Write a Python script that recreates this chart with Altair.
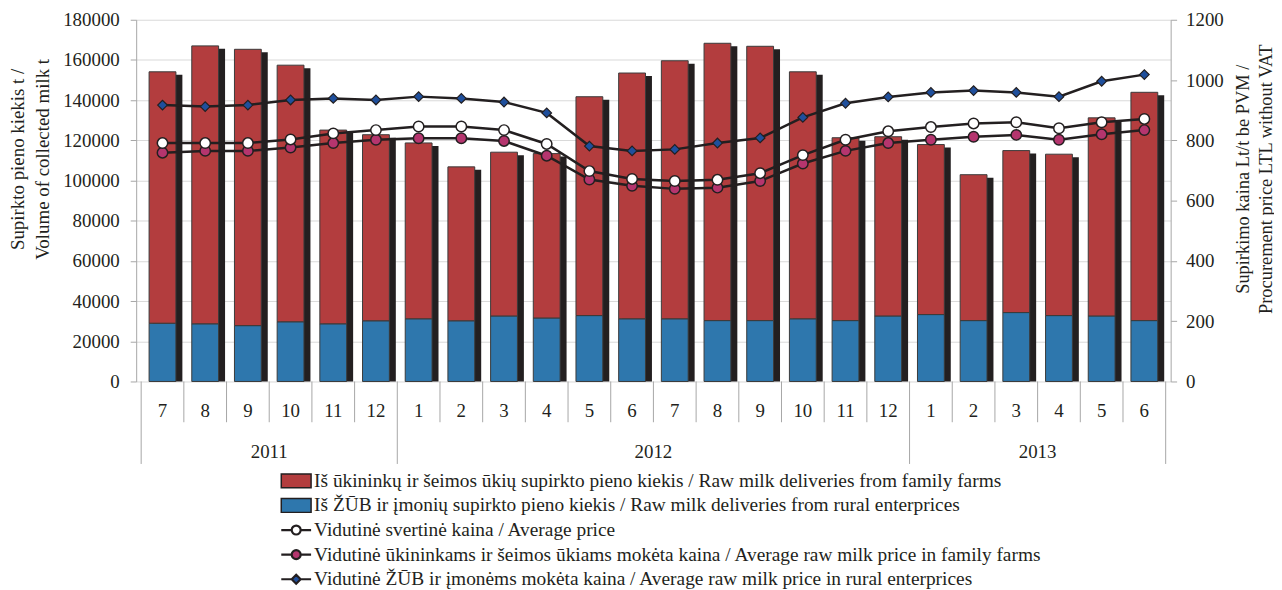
import altair as alt
import pandas as pd

# ---------------- data ----------------
months = [7, 8, 9, 10, 11, 12, 1, 2, 3, 4, 5, 6, 7, 8, 9, 10, 11, 12, 1, 2, 3, 4, 5, 6]
years = ["2011", "2012", "2013"]
year_start = [0, 6, 18]
year_end = [6, 18, 24]

# raw milk deliveries, t
family_farms = [125100, 138300, 137500, 127700, 96400, 92600, 87500, 76600, 81500, 81800,
                108900, 122300, 128400, 138000, 136500, 122900, 91000, 89200, 84600, 72600,
                80600, 80300, 98600, 113600]
rural_ent = [29000, 28700, 27800, 29700, 28700, 30200, 31200, 30200, 32600, 31600,
             32800, 31200, 31200, 30300, 30300, 31200, 30300, 32600, 33300, 30300,
             34300, 32800, 32600, 30300]

# prices, LTL/t without VAT
avg_price = [791, 791, 791, 803, 823, 834, 846, 846, 834, 788, 698, 672,
             665, 669, 691, 751, 802, 830, 844, 856, 860, 840, 860, 871]
family_price = [759, 765, 765, 776, 791, 802, 807, 807, 798, 749, 670, 649,
                639, 643, 665, 723, 765, 791, 802, 812, 818, 802, 820, 834]
rural_price = [917, 912, 917, 934, 939, 934, 945, 939, 927, 891, 781, 765,
               770, 791, 808, 876, 923, 944, 959, 965, 959, 945, 996, 1018]

legend_names = [
    "Iš ūkininkų ir šeimos ūkių supirkto pieno kiekis / Raw milk deliveries from family farms",
    "Iš ŽŪB ir įmonių supirkto pieno kiekis / Raw milk deliveries from rural enterprices",
    "Vidutinė svertinė kaina / Average price",
    "Vidutinė ūkininkams ir šeimos ūkiams mokėta kaina / Average raw milk price in family farms",
    "Vidutinė ŽŪB ir įmonėms mokėta kaina / Average raw milk price in rural enterprices",
]

# ---------------- styling ----------------
FONT = "Liberation Serif"
TXT = "#231F20"
GREY = "#A6A6A6"
RED = "#B33D3E"
BLUE = "#2E77AD"
PINK = "#B5356E"
DBLUE = "#1F4F9C"
W, H = 1041, 364
FS = 19

n = len(months)
df = pd.DataFrame({
    "pos": [i + 0.5 for i in range(n)],
    "month": [str(m) for m in months],
    "family": family_farms, "rural": rural_ent,
    "avg": avg_price, "fam_p": family_price, "rur_p": rural_price,
})
df["total"] = df["family"] + df["rural"]
df["zero"] = 0

X = alt.X("pos:Q", scale=alt.Scale(domain=[0, n], nice=False, zero=False), axis=None)

left_axis = alt.Axis(
    title=["Supirkto pieno kiekis t /", "Volume of collected milk t"],
    values=list(range(0, 180001, 20000)), format="d", grid=True,
    gridColor="#D9D9D9", gridWidth=1, domainColor=GREY, tickColor=GREY, tickSize=6,
    labelFont=FONT, labelFontSize=FS, labelColor=TXT, labelPadding=11,
    titleFont=FONT, titleFontSize=FS, titleFontWeight="normal", titleColor=TXT,
    titleAngle=270, titleAlign="center", titleBaseline="middle", titleLineHeight=25,
    titleX=-119, titleY=140,
)
left_scale = alt.Scale(domain=[0, 180000], nice=False)
right_axis = alt.Axis(
    title=["Supirkimo kaina Lt/t be PVM /", "Procurement price LTL without VAT"],
    orient="right", values=list(range(0, 1201, 200)), format="d", grid=False,
    domainColor=GREY, tickColor=GREY, tickSize=6,
    labelFont=FONT, labelFontSize=FS, labelColor=TXT, labelPadding=9,
    titleFont=FONT, titleFontSize=18.5, titleFontWeight="normal", titleColor=TXT,
    titleAngle=270, titleAlign="center", titleBaseline="middle", titleLineHeight=23,
    titleX=72, titleY=160,
)
right_scale = alt.Scale(domain=[0, 1200], nice=False)


def YL(field):
    return alt.Y(field, scale=left_scale, axis=left_axis)


def YR(field):
    return alt.Y(field, scale=right_scale, axis=right_axis)


base = alt.Chart(df)
shadow = base.mark_bar(size=30, xOffset=5, yOffset=3, color=TXT).encode(
    x=X, y=YL("total:Q"), y2="zero:Q")
blue_bar = base.mark_bar(size=27, color=BLUE, stroke="#3A3A3A", strokeWidth=1).encode(
    x=X, y=YL("rural:Q"), y2="zero:Q")
red_bar = base.mark_bar(size=27, color=RED, stroke="#3A3A3A", strokeWidth=1).encode(
    x=X, y=YL("total:Q"), y2="rural:Q")

# category axis: separators and two rows of labels
short_b = [b for b in range(1, n) if b not in year_start]
long_b = sorted(set(year_start + year_end))
XB = alt.X("b:Q", axis=None)
sep_short = alt.Chart(pd.DataFrame({"b": short_b})).mark_rule(color=GREY, strokeWidth=1).encode(
    x=XB, y=alt.value(H), y2=alt.value(H + 41))
sep_long = alt.Chart(pd.DataFrame({"b": long_b})).mark_rule(color=GREY, strokeWidth=1).encode(
    x=XB, y=alt.value(H), y2=alt.value(H + 83))
month_txt = base.mark_text(font=FONT, fontSize=FS, color=TXT, baseline="middle").encode(
    x=X, y=alt.value(H + 30), text="month:N")
ydf = pd.DataFrame({"year": years, "b": [(a + b) / 2 for a, b in zip(year_start, year_end)]})
year_txt = alt.Chart(ydf).mark_text(font=FONT, fontSize=FS, color=TXT, baseline="middle").encode(
    x=XB, y=alt.value(H + 71), text="year:N")

left = alt.layer(shadow, blue_bar, red_bar, sep_short, sep_long, month_txt, year_txt)

line_kw = dict(color=TXT, strokeWidth=2.5)
l_rur = base.mark_line(**line_kw).encode(x=X, y=YR("rur_p:Q"))
l_fam = base.mark_line(**line_kw).encode(x=X, y=YR("fam_p:Q"))
l_avg = base.mark_line(**line_kw).encode(x=X, y=YR("avg:Q"))
p_rur = base.mark_point(shape="diamond", filled=True, fill=DBLUE, stroke=TXT, strokeWidth=1.2,
                        size=95, opacity=1).encode(x=X, y=YR("rur_p:Q"))
p_fam = base.mark_point(shape="circle", filled=True, fill=PINK, stroke=TXT, strokeWidth=1.5,
                        size=110, opacity=1).encode(x=X, y=YR("fam_p:Q"))
p_avg = base.mark_point(shape="circle", filled=True, fill="white", stroke=TXT, strokeWidth=1.5,
                        size=110, opacity=1).encode(x=X, y=YR("avg:Q"))
right = alt.layer(l_rur, l_fam, l_avg, p_rur, p_fam, p_avg)

# ---------------- legend below the category axis ----------------
rect_p = "M-2,-0.93H2V0.93H-2Z"
circ_p = "M-2,0H-0.6M0.6,0H2M-0.6,0A0.6,0.6 0 1,0 0.6,0A0.6,0.6 0 1,0 -0.6,0Z"
diam_p = "M-2,0H-0.6M0.6,0H2M0,-0.6L0.6,0L0,0.6L-0.6,0Z"
leg_df = pd.DataFrame({
    "label": legend_names,
    "row": list(range(len(legend_names))),
    "shape": [rect_p, rect_p, circ_p, circ_p, diam_p],
    "fill": [RED, BLUE, "white", PINK, DBLUE],
    "sw": [1.5, 1.5, 2.2, 2.2, 2.2],
})
legY = alt.Y("row:Q", scale=alt.Scale(domain=[0, 4], range=[464, 563]), axis=None)
leg_sym = alt.Chart(leg_df).mark_point(filled=True, stroke=TXT, size=225, opacity=1).encode(
    x=alt.value(161), y=legY,
    shape=alt.Shape("shape:N", scale=None),
    fill=alt.Fill("fill:N", scale=None),
    strokeWidth=alt.StrokeWidth("sw:Q", scale=None),
)
leg_txt = alt.Chart(leg_df).mark_text(align="left", baseline="middle", font=FONT, fontSize=19.5,
                                      color=TXT).encode(
    x=alt.value(179), y=legY, text="label:N")
legend_grp = alt.layer(leg_sym, leg_txt)

chart = alt.layer(left, right, legend_grp).resolve_scale(y="independent").properties(
    width=W, height=H,
    autosize=alt.AutoSizeParams(type="none"),
    padding={"left": 129, "top": 10, "right": 104, "bottom": 208},
).configure_view(stroke=None).configure_axis(labelFont=FONT, titleFont=FONT)

chart.save("out.html", embed_options={"renderer": "svg", "actions": False})
